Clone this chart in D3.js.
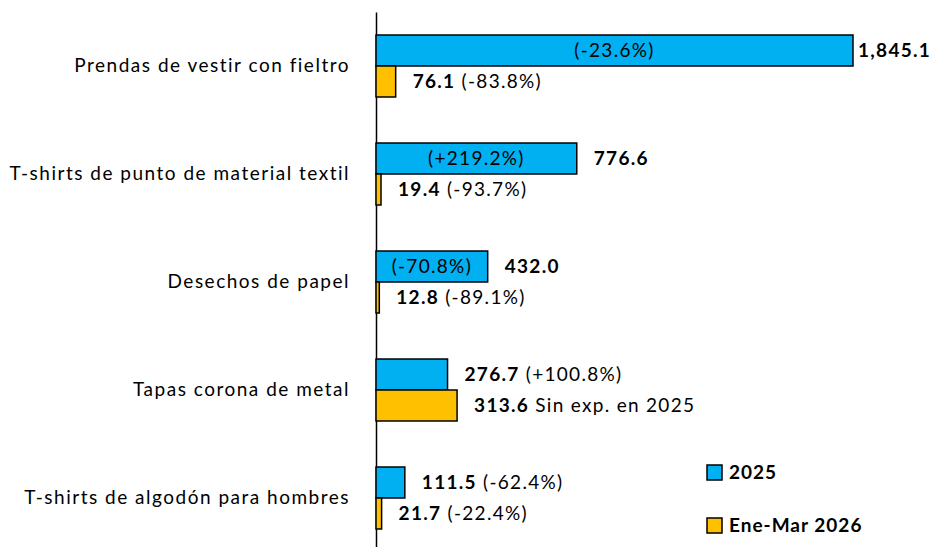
<!DOCTYPE html>
<html><head><meta charset="utf-8">
<script src="https://cdn.jsdelivr.net/npm/d3@7"></script>
<style>body{margin:0;background:#fff}svg{display:block}text{font-family:Lato,"Open Sans",sans-serif}</style>
</head><body><svg id="c" width="935" height="547"></svg>
<script>
const categories = ["Prendas de vestir con fieltro","T-shirts de punto de material textil","Desechos de papel","Tapas corona de metal","T-shirts de algodón para hombres"];
const series = ["2025","Ene-Mar 2026"];
const values2025 = [1845.1, 776.6, 432.0, 276.7, 111.5];
const values2026 = [76.1, 19.4, 12.8, 313.6, 21.7];
const notes2025 = ["(-23.6%)","(+219.2%)","(-70.8%)","(+100.8%)","(-62.4%)"];
const notes2026 = ["(-83.8%)","(-93.7%)","(-89.1%)","Sin exp. en 2025","(-22.4%)"];
const colors = ["#00B0F0","#FFC000"];

const svg = d3.select("#c");
const x = d3.scaleLinear().domain([0, 1845.1]).range([376, 853]);
const y = d3.scaleBand().domain(categories).range([12, 552]).paddingInner(0.426).paddingOuter(0.213);
const sub = d3.scaleBand().domain(series).range([0, y.bandwidth()]);
const fmt = d3.format(",.1f");
const maxV = d3.max(values2025);
const LS = "1.3px";

const axis = d3.axisLeft(y).tickSize(0).tickSizeOuter(0).tickPadding(26);
const ag = svg.append("g").attr("transform", `translate(${x(0)},0)`).call(axis);
ag.select(".domain").attr("stroke","#000").attr("stroke-width",1.5);
ag.selectAll(".tick text").attr("font-size",19).attr("fill","#000")
  .style("font-family","Lato,'Open Sans',sans-serif").style("letter-spacing","1.5px");

const rows = categories.map((c,i)=>({c, a:values2025[i], b:values2026[i], na:notes2025[i], nb:notes2026[i]}));

const g = svg.append("g").style("letter-spacing", LS);
rows.forEach(r=>{
  [[r.a, series[0], colors[0]],[r.b, series[1], colors[1]]].forEach(([v,s,col])=>{
    g.append("rect")
      .attr("x", x(0)).attr("y", y(r.c)+sub(s))
      .attr("width", x(v)-x(0)).attr("height", sub.bandwidth())
      .attr("fill", col).attr("stroke","#000").attr("stroke-width",1.5);
  });
  const yA = y(r.c)+sub(series[0])+sub.bandwidth()/2;
  const yB = y(r.c)+sub(series[1])+sub.bandwidth()/2;
  const probe = g.append("text").attr("font-size",19).text(r.na);
  const tw = probe.node().getComputedTextLength();
  probe.remove();
  const bw = x(r.a)-x(0);
  const off = r.a === maxV ? 5 : 17;
  if (tw + 10 < bw) {
    g.append("text").attr("x", (x(0)+x(r.a))/2).attr("y", yA).attr("dy","0.35em")
      .attr("text-anchor","middle").attr("font-size",19).attr("fill","#000").text(r.na);
    g.append("text").attr("x", x(r.a)+off).attr("y", yA).attr("dy","0.35em")
      .attr("font-size",19).attr("font-weight","bold").attr("fill","#000").text(fmt(r.a));
  } else {
    const t = g.append("text").attr("x", x(r.a)+off).attr("y", yA).attr("dy","0.35em").attr("font-size",19).attr("fill","#000");
    t.append("tspan").attr("font-weight","bold").text(fmt(r.a));
    t.append("tspan").text(" " + r.na);
  }
  const t2 = g.append("text").attr("x", x(r.b)+17).attr("y", yB).attr("dy","0.35em").attr("font-size",19).attr("fill","#000");
  t2.append("tspan").attr("font-weight","bold").text(fmt(r.b));
  t2.append("tspan").text(" " + r.nb);
});

const lg = svg.append("g").style("letter-spacing","1px");
series.forEach((s,i)=>{
  const yy = 465 + i*53;
  lg.append("rect").attr("x",707).attr("y",yy).attr("width",15).attr("height",15)
    .attr("fill",colors[i]).attr("stroke","#000").attr("stroke-width",1.5);
  lg.append("text").attr("x",729).attr("y",yy+7.5).attr("dy","0.35em")
    .attr("font-size",19).attr("font-weight","bold").attr("fill","#000").text(s);
});
</script></body></html>
